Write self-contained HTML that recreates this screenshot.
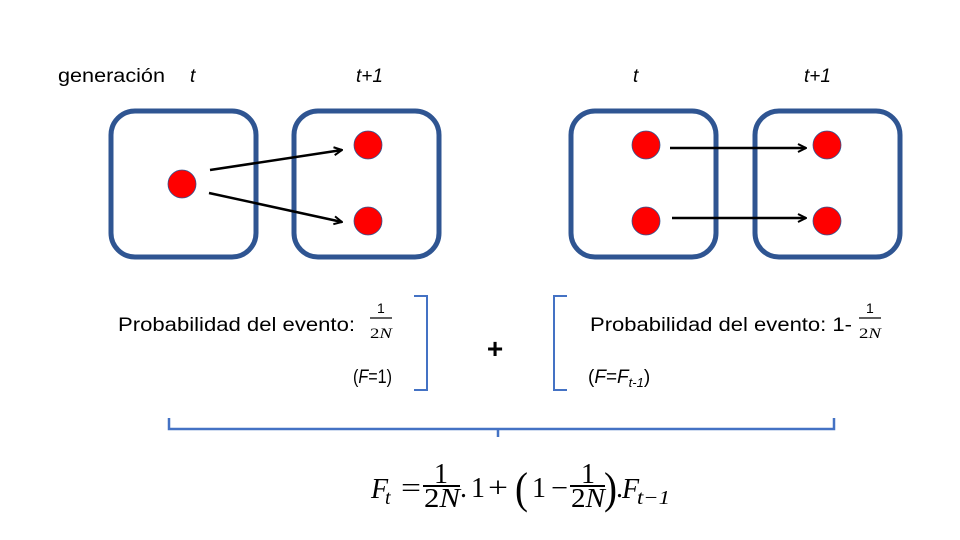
<!DOCTYPE html>
<html><head><meta charset="utf-8"><style>
html,body{margin:0;padding:0;background:#fff;}
svg{display:block}
text{font-family:"Liberation Sans",sans-serif;fill:#000}
.m{font-family:"Liberation Serif","DejaVu Serif",serif}
</style></head><body>
<svg width="960" height="540" viewBox="0 0 960 540">
<defs><marker id="ah" markerWidth="10" markerHeight="10" refX="9" refY="5" orient="auto" markerUnits="userSpaceOnUse"><path d="M1,1 L9,5 L1,9" fill="none" stroke="#000" stroke-width="2"/></marker></defs>
<text x="58" y="82" font-size="19" textLength="107" lengthAdjust="spacingAndGlyphs">generación</text>
<text x="190" y="82" font-size="19" font-style="italic">t</text>
<text x="356" y="82" font-size="19" font-style="italic">t+1</text>
<text x="633" y="82" font-size="19" font-style="italic">t</text>
<text x="804" y="82" font-size="19" font-style="italic">t+1</text>
<g fill="none" stroke="#2f5592" stroke-width="5">
<rect x="111" y="111" width="145" height="146" rx="24"/>
<rect x="294" y="111" width="145" height="146" rx="24"/>
<rect x="571" y="111" width="145" height="146" rx="24"/>
<rect x="755" y="111" width="145" height="146" rx="24"/>
</g>
<g fill="#ff0000" stroke="#2f5592" stroke-width="0.8">
<circle cx="182" cy="184" r="14"/>
<circle cx="368" cy="145" r="14"/>
<circle cx="368" cy="221" r="14"/>
<circle cx="646" cy="145" r="14"/>
<circle cx="646" cy="221" r="14"/>
<circle cx="827" cy="145" r="14"/>
<circle cx="827" cy="221" r="14"/>
</g>
<g stroke="#000" stroke-width="2.5" marker-end="url(#ah)">
<line x1="210" y1="170" x2="342" y2="150"/>
<line x1="209" y1="193" x2="342" y2="222"/>
<line x1="670" y1="148" x2="806" y2="148"/>
<line x1="672" y1="218" x2="806" y2="218"/>
</g>
<text x="118" y="331" font-size="19" textLength="237" lengthAdjust="spacingAndGlyphs">Probabilidad del evento:</text>
<text x="377" y="313" font-size="14">1</text>
<line x1="370" y1="318" x2="392" y2="318" stroke="#000" stroke-width="1.3"/>
<text x="370" y="338" font-size="15" class="m" textLength="22" lengthAdjust="spacingAndGlyphs">2<tspan font-style="italic">N</tspan></text>
<text x="353" y="383" font-size="19" textLength="39" lengthAdjust="spacingAndGlyphs">(<tspan font-style="italic">F</tspan>=1)</text>
<path d="M414,296 H427 V390 H414" fill="none" stroke="#4472c4" stroke-width="2"/>
<text x="495" y="358" font-size="28" font-weight="bold" text-anchor="middle">+</text>
<path d="M567,296 H554 V390 H567" fill="none" stroke="#4472c4" stroke-width="2"/>
<text x="590" y="331" font-size="19" textLength="262" lengthAdjust="spacingAndGlyphs">Probabilidad del evento: 1-</text>
<text x="866" y="313" font-size="14">1</text>
<line x1="859" y1="318" x2="881" y2="318" stroke="#000" stroke-width="1.3"/>
<text x="859" y="338" font-size="15" class="m" textLength="22" lengthAdjust="spacingAndGlyphs">2<tspan font-style="italic">N</tspan></text>
<text x="588" y="383" font-size="19">(<tspan font-style="italic">F</tspan>=<tspan font-style="italic">F<tspan font-size="13" dy="4">t-1</tspan></tspan><tspan dy="-4">)</tspan></text>
<path d="M169,418 V429 H834 V418 M498,429 V437" fill="none" stroke="#4472c4" stroke-width="2.5"/>
<g>
<text x="371" y="498" class="m" font-size="28" font-style="italic">F</text>
<text x="385" y="504" class="m" font-size="20" font-style="italic">t</text>
<text x="401" y="497" class="m" font-size="28" textLength="20" lengthAdjust="spacingAndGlyphs">=</text>
<text x="441" y="483" class="m" font-size="28" text-anchor="middle">1</text>
<line x1="423" y1="486" x2="460" y2="486" stroke="#000" stroke-width="2"/>
<text x="424" y="507" class="m" font-size="27" textLength="36" lengthAdjust="spacingAndGlyphs">2<tspan font-style="italic">N</tspan></text>
<text x="460" y="497" class="m" font-size="28">.</text>
<text x="471" y="497" class="m" font-size="28">1</text>
<text x="488" y="497" class="m" font-size="28" textLength="20" lengthAdjust="spacingAndGlyphs">+</text>
<text x="515" y="503" class="m" font-size="44" textLength="13" lengthAdjust="spacingAndGlyphs">(</text>
<text x="532" y="497" class="m" font-size="28">1</text>
<text x="551" y="497" class="m" font-size="28" textLength="17" lengthAdjust="spacingAndGlyphs">−</text>
<text x="588" y="483" class="m" font-size="28" text-anchor="middle">1</text>
<line x1="570" y1="486" x2="605" y2="486" stroke="#000" stroke-width="2"/>
<text x="571" y="507" class="m" font-size="27" textLength="34" lengthAdjust="spacingAndGlyphs">2<tspan font-style="italic">N</tspan></text>
<text x="604" y="503" class="m" font-size="44" textLength="13" lengthAdjust="spacingAndGlyphs">)</text>
<text x="616" y="497" class="m" font-size="28">.</text>
<text x="622" y="498" class="m" font-size="28" font-style="italic">F</text>
<text x="637" y="504" class="m" font-size="20" font-style="italic" textLength="33" lengthAdjust="spacingAndGlyphs">t−1</text>
</g>
</svg>
</body></html>
